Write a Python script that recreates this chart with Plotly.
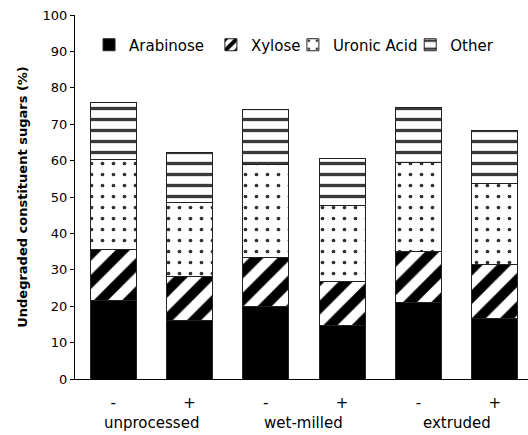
import plotly.graph_objects as go

categories = ["unprocessed -", "unprocessed +", "wet-milled -", "wet-milled +", "extruded -", "extruded +"]
tick_labels = ["-", "+", "-", "+", "-", "+"]
groups = ["unprocessed", "wet-milled", "extruded"]

arabinose = [21.5, 16.1, 19.9, 14.6, 20.9, 16.7]
xylose = [14.1, 12.0, 13.5, 12.1, 14.0, 14.8]
uronic_acid = [24.8, 20.4, 25.6, 21.0, 24.5, 22.2]
other = [15.6, 13.8, 15.1, 12.8, 15.2, 14.6]

FONT = "DejaVu Sans"

fig = go.Figure()
series = [
    ("Arabinose", arabinose, dict(shape="", fgcolor="black"), "legend", "black"),
    ("Xylose", xylose, dict(shape="/", size=20, solidity=0.5, fgcolor="black", fgopacity=1, bgcolor="white", fillmode="replace"), "legend2", "white"),
    ("Uronic Acid", uronic_acid, dict(shape=".", size=11, solidity=0.09, fgcolor="#333333", fgopacity=1, bgcolor="white", fillmode="replace"), "legend3", "white"),
    ("Other", other, dict(shape="-", size=11, solidity=0.3, fgcolor="#3a3a3a", fgopacity=1, bgcolor="white", fillmode="replace"), "legend4", "white"),
]
for name, vals, pat, leg, color in series:
    fig.add_trace(go.Bar(
        x=categories, y=vals, name=name, legend=leg, showlegend=True,
        marker=dict(color=color, pattern=pat, line=dict(color="#222222", width=1)),
    ))

for i, g in enumerate(groups):
    fig.add_annotation(
        x=2 * i + 0.5, y=0, xref="x", yref="paper", yshift=-33,
        text=g, showarrow=False, yanchor="top",
        font=dict(family=FONT, size=15, color="black"),
    )

leg_common = dict(orientation="h", y=0.9176, xanchor="left", yanchor="middle",
                  font=dict(family=FONT, size=15, color="black"), itemwidth=30,
                  bgcolor="rgba(0,0,0,0)", visible=True)
fig.update_layout(
    width=528, height=435, showlegend=True,
    barmode="stack", bargap=0.4,
    plot_bgcolor="white", paper_bgcolor="white",
    margin=dict(l=75, r=0, t=15, b=56),
    font=dict(family=FONT, size=13, color="black"),
    legend=dict(x=0.031, **leg_common),
    legend2=dict(x=0.300, **leg_common),
    legend3=dict(x=0.481, **leg_common),
    legend4=dict(x=0.740, **leg_common),
    xaxis=dict(
        type="category", range=[-0.5, 5.435],
        tickmode="array", tickvals=categories, ticktext=tick_labels,
        showline=True, linecolor="black", linewidth=1, ticks="",
        ticklabelstandoff=10,
        tickfont=dict(family=FONT, size=15, color="black"), showgrid=False,
    ),
    yaxis=dict(
        range=[0, 100], dtick=10, showline=True, linecolor="black", linewidth=1,
        ticks="outside", ticklen=4, tickcolor="black", showgrid=False, zeroline=False,
        title=dict(text="<b>Undegraded constituent sugars (%)</b>", font=dict(family=FONT, size=13, color="black"), standoff=12),
        tickfont=dict(family=FONT, size=13, color="black"),
    ),
)

fig.write_html("out.html")
